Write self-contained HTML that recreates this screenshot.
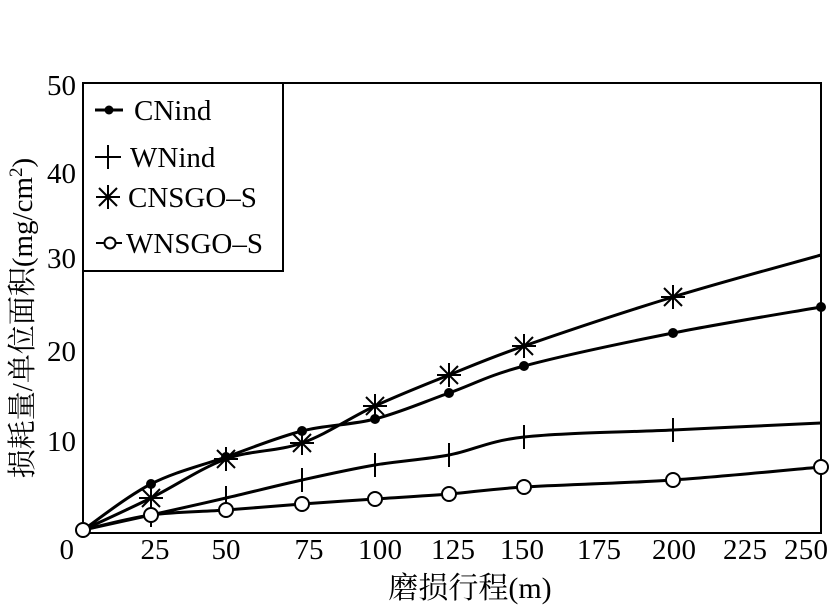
<!DOCTYPE html>
<html><head><meta charset="utf-8"><style>
body{margin:0;background:#fff;}
svg text{font-family:"Liberation Serif","Noto Serif CJK SC",serif;fill:#000;}
</style></head><body>
<svg id="s" width="837" height="605" viewBox="0 0 837 605" xmlns="http://www.w3.org/2000/svg">
<rect x="83" y="83" width="738" height="450" fill="none" stroke="#000" stroke-width="2"/>
<rect x="83" y="83" width="200" height="188" fill="#fff" stroke="#000" stroke-width="2"/>
<g font-size="29" text-anchor="end">
<text x="76" y="95">50</text><text x="76" y="183">40</text><text x="76" y="268">30</text>
<text x="76" y="361">20</text><text x="76" y="451">10</text><text x="74" y="559">0</text>
</g>
<g font-size="29" text-anchor="middle">
<text x="155" y="559">25</text><text x="226" y="559">50</text>
<text x="309" y="559">75</text><text x="380" y="559" textLength="44">100</text><text x="453" y="559" textLength="44">125</text>
<text x="522" y="559" textLength="44">150</text><text x="599" y="559" textLength="44">175</text><text x="674" y="559" textLength="44">200</text>
<text x="745" y="559" textLength="44">225</text><text x="806" y="559" textLength="44">250</text>
<text x="470" y="598" font-size="30">磨损行程(m)</text>
</g>
<text transform="translate(32,318) rotate(-90)" font-size="29" text-anchor="middle">损耗量/单位面积(mg/cm<tspan dy="-10" font-size="19">2</tspan><tspan dy="10">)</tspan></text>
<g id="series" fill="none" stroke="#000" stroke-width="3"></g>
<g font-size="29">
<line x1="95" y1="110" x2="123" y2="110" stroke="#000" stroke-width="3"/><circle cx="109" cy="110" r="4.5"/>
<text x="134" y="120">CNind</text>
<line x1="95" y1="157" x2="121" y2="157" stroke="#000" stroke-width="2"/><line x1="108" y1="145" x2="108" y2="169" stroke="#000" stroke-width="2"/>
<text x="130" y="167">WNind</text>
<g stroke="#000" stroke-width="2"><line x1="96" y1="197" x2="120" y2="197"/><line x1="108" y1="185" x2="108" y2="209"/><line x1="99" y1="188" x2="117" y2="206"/><line x1="117" y1="188" x2="99" y2="206"/></g>
<text x="128" y="207">CNSGO–S</text>
<line x1="96" y1="243" x2="122" y2="243" stroke="#000" stroke-width="2"/><circle cx="110" cy="243" r="5.5" fill="#fff" stroke="#000" stroke-width="2"/>
<text x="126" y="253">WNSGO–S</text>
</g>
</svg>
<script>
const X=[83,151,226,302,375,449,524,673,821];
const D={
cn:[530,484,457,431,419,393,366,333,307],
cs:[530,498,459,443,406,375,346,297,255],
wn:[530,515,498,480,465,455,437,430,423],
ws:[530,515,510,504,499,494,487,480,467]};
const g=document.getElementById('series');const NS='http://www.w3.org/2000/svg';
function path(ys){let p=`M${X[0]},${ys[0]}`;for(let i=0;i<X.length-1;i++){const p0=[X[Math.max(0,i-1)],ys[Math.max(0,i-1)]],p1=[X[i],ys[i]],p2=[X[i+1],ys[i+1]],p3=[X[Math.min(X.length-1,i+2)],ys[Math.min(X.length-1,i+2)]];
p+=` C${p1[0]+(p2[0]-p0[0])/6},${p1[1]+(p2[1]-p0[1])/6} ${p2[0]-(p3[0]-p1[0])/6},${p2[1]-(p3[1]-p1[1])/6} ${p2[0]},${p2[1]}`;}return p;}
function el(t,a){const e=document.createElementNS(NS,t);for(const k in a)e.setAttribute(k,a[k]);g.appendChild(e);return e;}
for(const k in D){el('path',{d:path(D[k])});}
for(let i=1;i<9;i++){const x=X[i];
 el('circle',{cx:x,cy:D.cn[i],r:5,fill:'#000',stroke:'none'});
 let y=D.wn[i];el('line',{x1:x,y1:y-12,x2:x,y2:y+12,'stroke-width':2});
 if(i<8){y=D.cs[i];el('line',{x1:x-12,y1:y,x2:x+12,y2:y,'stroke-width':2});el('line',{x1:x,y1:y-12,x2:x,y2:y+12,'stroke-width':2});el('line',{x1:x-9,y1:y-9,x2:x+9,y2:y+9,'stroke-width':2});el('line',{x1:x+9,y1:y-9,x2:x-9,y2:y+9,'stroke-width':2});}
 el('circle',{cx:x,cy:D.ws[i],r:7,fill:'#fff','stroke-width':2});}
el('circle',{cx:83,cy:530,r:7,fill:'#fff','stroke-width':2});
</script>
</body></html>
